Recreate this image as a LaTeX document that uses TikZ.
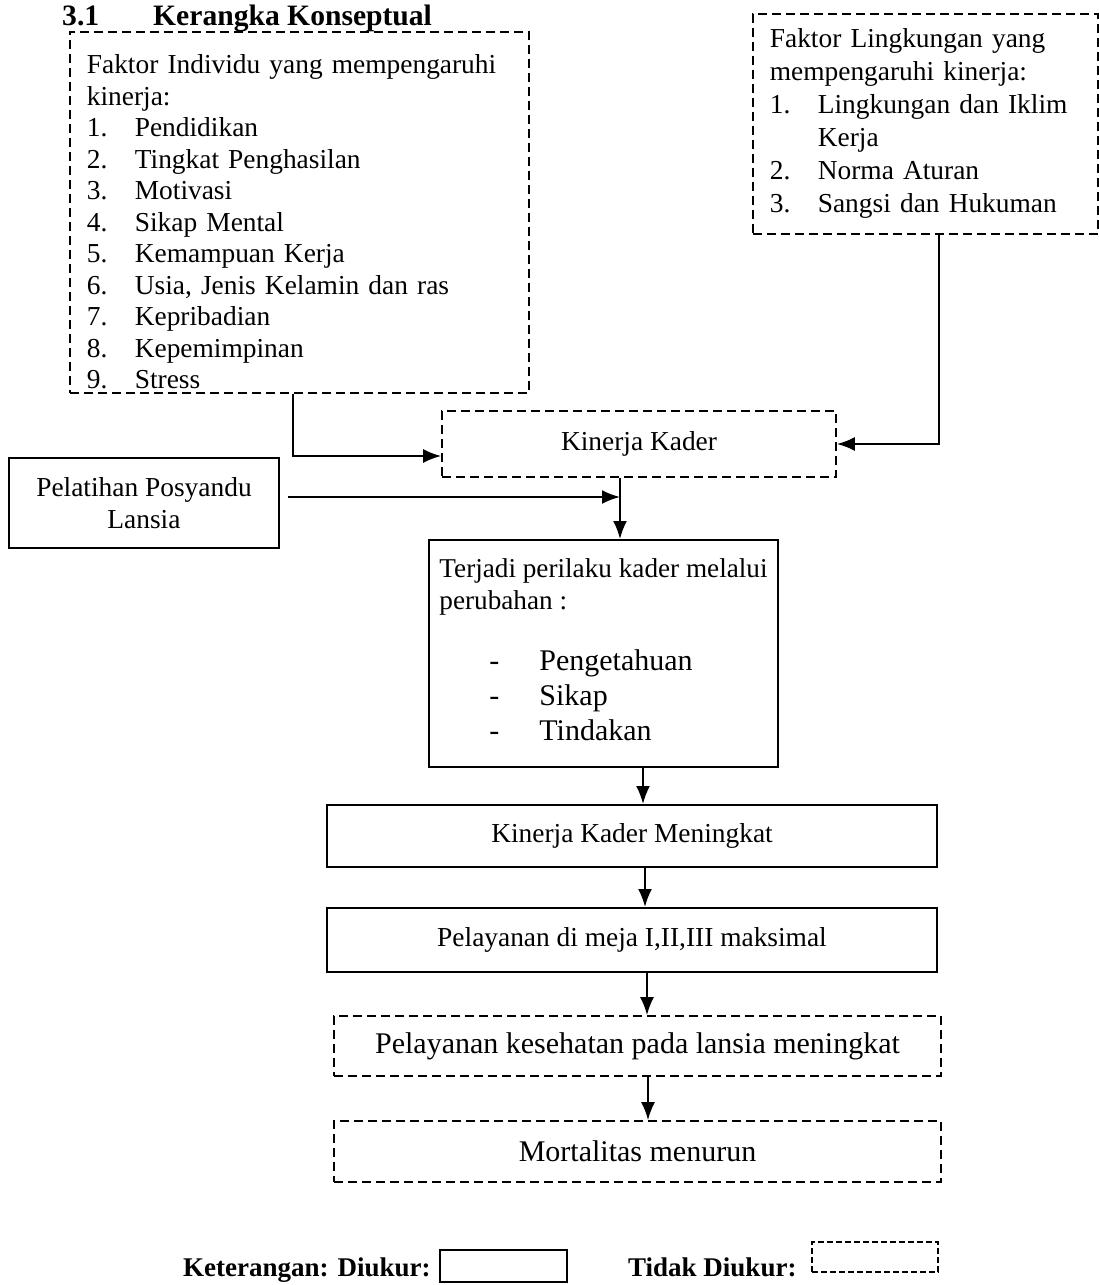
\documentclass[tikz,border=0pt]{standalone}
\usepackage{fontspec}
\setmainfont{Liberation Serif}
\usetikzlibrary{arrows.meta,positioning,calc}
\newcommand{\teks}{\fontsize{27.4}{31.5}\selectfont}
\newcommand{\teksb}{\fontsize{30}{35}\selectfont}
\newcommand{\butir}[2]{\makebox[48pt][l]{#1}#2}
\tikzset{
  kotak/.style={draw,line width=2pt,align=center,inner sep=4pt,font=\teks},
  kotakp/.style={kotak,line width=1.7pt,dash pattern=on 9pt off 5pt},
  daftar/.style={kotakp,align=left,inner xsep=17pt,inner ysep=4pt,anchor=north west},
  panah/.style={-{Latex[length=18pt,width=14pt]},line width=2pt},
  judul/.style={font=\fontsize{29.6}{34}\selectfont\bfseries,inner sep=0pt,anchor=base west},
  ket/.style={font=\fontsize{27}{32}\selectfont\bfseries,inner sep=0pt,anchor=base west},
}

\begin{document}
\begin{tikzpicture}[x=1pt,y=-1pt]

\fill[white] (0,0) rectangle (1099,1285);

\node[judul] (nomor) at (62,25) {3.1};
\node[judul] (judul) at (153,25) {Kerangka Konseptual};

% faktor individu
\node[daftar,text width=425pt] (ind) at (69,31)
  {\rule{0pt}{38pt}Faktor Individu yang mempengaruhi\\
   kinerja:\\
   \butir{1.}{Pendidikan}\\
   \butir{2.}{Tingkat Penghasilan}\\
   \butir{3.}{Motivasi}\\
   \butir{4.}{Sikap Mental}\\
   \butir{5.}{Kemampuan Kerja}\\
   \butir{6.}{Usia, Jenis Kelamin dan ras}\\
   \butir{7.}{Kepribadian}\\
   \butir{8.}{Kepemimpinan}\\
   \butir{9.}{Stress}};

% faktor lingkungan
\node[daftar,text width=311pt,font=\fontsize{27.4}{33}\selectfont] (ling) at (752,13)
  {\rule{0pt}{30pt}Faktor Lingkungan yang\\
   mempengaruhi kinerja:\\
   \butir{1.}{Lingkungan dan Iklim}\\
   \butir{}{Kerja}\\
   \butir{2.}{Norma Aturan}\\
   \butir{3.}{Sangsi dan Hukuman\rule[-17pt]{0pt}{17pt}}};

\node[kotakp,minimum width=394pt,minimum height=66pt] (kk) at (639,444) {Kinerja Kader};
\node[kotak,minimum width=270pt,minimum height=90pt] (pel) at (144,503)
  {Pelatihan Posyandu\\Lansia};

\node[kotak,align=left,minimum width=349pt,inner xsep=8.5pt,font=\fontsize{27.2}{32}\selectfont]
  (perilaku) at (603.5,653.5)
  {\rule{0pt}{33pt}Terjadi perilaku kader melalui\\
   perubahan :\\[29pt]
   {\teksb\hspace*{50pt}\makebox[50pt][l]{-}Pengetahuan}\\[3pt]
   {\teksb\hspace*{50pt}\makebox[50pt][l]{-}Sikap}\\[3pt]
   {\teksb\hspace*{50pt}\makebox[50pt][l]{-}Tindakan\rule[-23pt]{0pt}{23pt}}};

\node[kotak,minimum width=610pt,minimum height=62pt] (kkm) at (632,836) {Kinerja Kader Meningkat};
\node[kotak,minimum width=610pt,minimum height=64pt] (meja) at (632,940) {Pelayanan di meja I,II,III maksimal};
\node[kotakp,minimum width=607pt,minimum height=60pt,font=\teksb] (layan) at (637.5,1046)
  {Pelayanan kesehatan pada lansia meningkat};
\node[kotakp,minimum width=607pt,minimum height=61pt,font=\teksb] (mort) at (637.5,1151.5)
  {Mortalitas menurun};

% keterangan
\node[ket] (ket1) at (183,1276) {Keterangan: Diukur:};
\node[kotak,minimum width=127pt,minimum height=32pt] (ukur) at (503.5,1266) {};
\node[ket] (ket2) at (628,1276) {Tidak Diukur:};
\node[kotakp,line width=1.4pt,dash pattern=on 6pt off 3pt,minimum width=126pt,minimum height=30pt]
  (takukur) at (875,1257) {};

\coordinate (temu) at (620,497);

\draw[panah] ([xshift=-6pt]ind.south) |- ([yshift=-12pt]kk.west);
\draw[panah] ([xshift=14pt]ling.south) |- (kk.east);
\draw[panah,shorten <=8pt] (pel.east |- temu) -- (temu);
\draw[panah] (kk.south -| temu) -- (perilaku.north -| temu);
\draw[panah] ([xshift=39.5pt]perilaku.south) -- ([xshift=11pt]kkm.north);
\draw[panah] ([xshift=13pt]kkm.south) -- ([xshift=13pt]meja.north);
\draw[panah] ([xshift=15pt]meja.south) -- ([xshift=9.5pt]layan.north);
\draw[panah] ([xshift=10.5pt]layan.south) -- ([xshift=10.5pt]mort.north);

\end{tikzpicture}
\end{document}
